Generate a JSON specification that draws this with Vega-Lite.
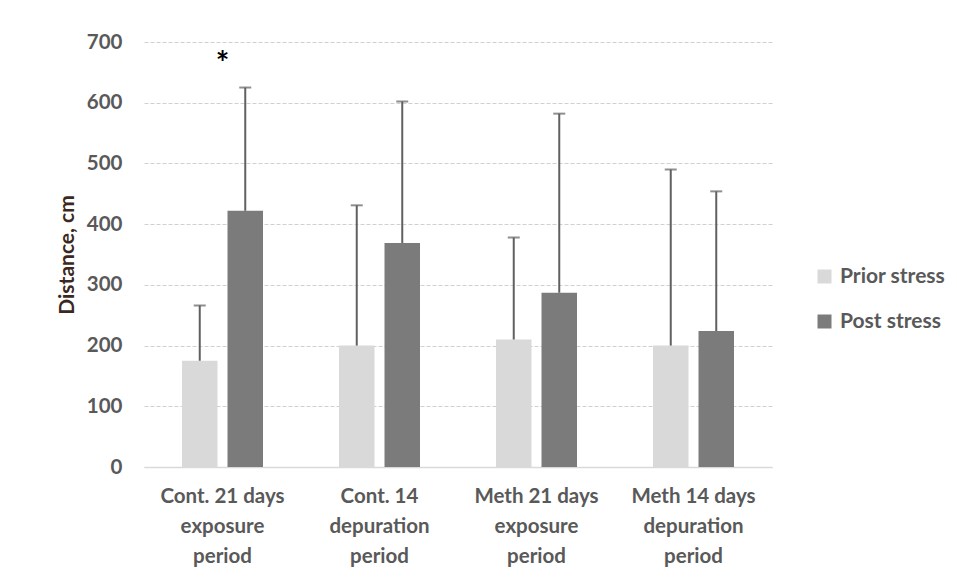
{
  "$schema": "https://vega.github.io/schema/vega-lite/v6.json",
  "autosize": "none",
  "width": 628,
  "height": 425,
  "padding": {"left": 144, "top": 42, "right": 185, "bottom": 114},
  "background": "white",
  "config": {
    "view": {"stroke": null},
    "font": "Lato"
  },
  "datasets": {
    "bars": [
      {"group": "Cont. 21 days exposure period", "condition": "Prior stress", "mean": 175, "upper": 266},
      {"group": "Cont. 21 days exposure period", "condition": "Post stress", "mean": 422, "upper": 625},
      {"group": "Cont. 14 depuration period", "condition": "Prior stress", "mean": 200, "upper": 431},
      {"group": "Cont. 14 depuration period", "condition": "Post stress", "mean": 369, "upper": 602},
      {"group": "Meth 21 days exposure period", "condition": "Prior stress", "mean": 210, "upper": 378},
      {"group": "Meth 21 days exposure period", "condition": "Post stress", "mean": 287, "upper": 582},
      {"group": "Meth 14 days depuration period", "condition": "Prior stress", "mean": 200, "upper": 490},
      {"group": "Meth 14 days depuration period", "condition": "Post stress", "mean": 224, "upper": 454}
    ],
    "marks": [
      {"group": "Cont. 21 days exposure period", "y": 675, "label": "*"}
    ]
  },
  "layer": [
    {
      "data": {"name": "bars"},
      "mark": {"type": "bar"},
      "encoding": {
        "x": {
          "field": "group", "type": "nominal", "sort": null,
          "scale": {"paddingInner": 0, "paddingOuter": 0},
          "axis": {
            "title": null,
            "labelExpr": "split(replace(replace(datum.value, ' exposure ', '|exposure|'), ' depuration ', '|depuration|'), '|')",
            "labelAngle": 0,
            "labelFontSize": 20.5,
            "labelFontWeight": "bold",
            "labelColor": "#595959",
            "labelLineHeight": 30,
            "labelPadding": 19,
            "labelBaseline": "top",
            "ticks": false,
            "tickSize": 0,
            "domainColor": "#d9d9d9",
            "domainWidth": 1.5,
            "grid": false
          }
        },
        "xOffset": {
          "field": "condition", "type": "nominal", "sort": ["Prior stress", "Post stress"],
          "scale": {"paddingInner": 0.22, "paddingOuter": 0.835}
        },
        "y": {
          "field": "mean", "type": "quantitative",
          "scale": {"domain": [0, 700], "nice": false},
          "axis": {
            "values": [0, 100, 200, 300, 400, 500, 600, 700],
            "title": "Distance, cm",
            "titleFontSize": 21,
            "titleFontWeight": "bold",
            "titleColor": "#3b2820",
            "titleAngle": -90,
            "titleX": -77,
            "titleY": 212.5,
            "titleAlign": "center",
            "titleBaseline": "middle",
            "labelFontSize": 20.5,
            "labelFontWeight": "bold",
            "labelColor": "#595959",
            "labelPadding": 22,
            "ticks": false,
            "tickSize": 0,
            "domain": false,
            "grid": true,
            "gridColor": "#d0d0d0",
            "gridDash": [4, 2],
            "gridWidth": 1
          }
        },
        "color": {
          "field": "condition", "type": "nominal",
          "scale": {"domain": ["Prior stress", "Post stress"], "range": ["#d9d9d9", "#7b7b7b"]},
          "legend": {
            "title": null,
            "orient": "none",
            "legendX": 670,
            "legendY": 224,
            "symbolType": "square",
            "symbolSize": 196,
            "symbolStrokeWidth": 0,
            "labelFontSize": 21,
            "labelFontWeight": "bold",
            "labelColor": "#595959",
            "labelOffset": 5,
            "rowPadding": 23
          }
        }
      }
    },
    {
      "data": {"name": "bars"},
      "mark": {"type": "rule", "color": "#606060", "strokeWidth": 2},
      "encoding": {
        "x": {"field": "group", "type": "nominal", "sort": null},
        "xOffset": {"field": "condition", "type": "nominal", "sort": ["Prior stress", "Post stress"]},
        "y": {"field": "mean", "type": "quantitative"},
        "y2": {"field": "upper"}
      }
    },
    {
      "data": {"name": "bars"},
      "mark": {"type": "tick", "color": "#606060", "size": 12, "thickness": 2, "orient": "horizontal"},
      "encoding": {
        "x": {"field": "group", "type": "nominal", "sort": null},
        "xOffset": {"field": "condition", "type": "nominal", "sort": ["Prior stress", "Post stress"]},
        "y": {"field": "upper", "type": "quantitative"}
      }
    },
    {
      "data": {"name": "marks"},
      "mark": {"type": "text", "fontSize": 32, "fontWeight": "bold", "color": "#000000", "baseline": "middle", "dy": 8},
      "encoding": {
        "x": {"field": "group", "type": "nominal", "sort": null},
        "y": {"field": "y", "type": "quantitative"},
        "text": {"field": "label"}
      }
    }
  ]
}
